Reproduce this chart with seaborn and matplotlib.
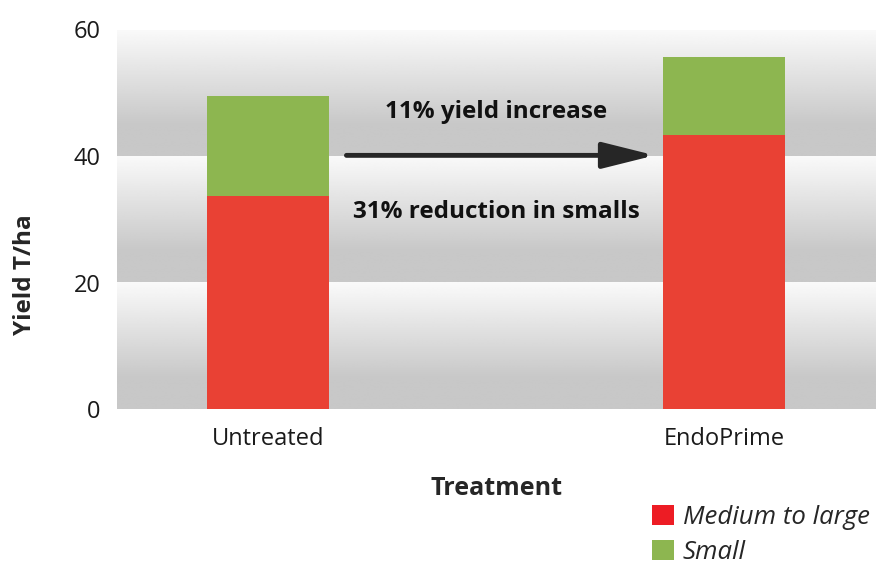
import numpy as np
import pandas as pd
import matplotlib.pyplot as plt
import seaborn as sns
from matplotlib.patches import Patch

# chart values
treatments = ['Untreated', 'EndoPrime']
medium_to_large = [33.7, 43.3]
small = [15.8, 12.4]
y_ticks = [0, 20, 40, 60]

df = pd.DataFrame({'Treatment': treatments,
                   'Medium to large': medium_to_large,
                   'Small': small})
df['Total'] = df['Medium to large'] + df['Small']

red = '#e94134'
green = '#8db650'

sns.set_style('white')
plt.rcParams['font.family'] = ['Open Sans', 'DejaVu Sans']

fig = plt.figure(figsize=(8.8, 5.64), dpi=100)
ax = fig.add_axes([117 / 880, 1 - 409 / 564, 759 / 880, 379.5 / 564])

xlim = (-0.331, 1.333)

# gradient background bands (white at top of each band fading to grey)
grad = np.clip(np.linspace(0, 1, 256) / 0.75, 0, 1)
shade = 0.98 - (0.98 - 0.784) * grad
band_img = np.repeat(shade[:, None], 2, axis=1)
for y0 in y_ticks[:-1]:
    ax.imshow(band_img, cmap='gray', vmin=0, vmax=1, aspect='auto',
              extent=(xlim[0], xlim[1], y0, y0 + 20), origin='upper', zorder=0)

# stacked bars: total (green) then medium-to-large (red) on top
sns.barplot(data=df, x='Treatment', y='Total', color=green, saturation=1,
            width=0.267, linewidth=0, ax=ax, zorder=2)
sns.barplot(data=df, x='Treatment', y='Medium to large', color=red, saturation=1,
            width=0.267, linewidth=0, ax=ax, zorder=3)

ax.set_xlim(*xlim)
ax.set_ylim(0, 60)
ax.set_yticks(y_ticks)
ax.tick_params(axis='y', length=0, pad=12, labelsize=17, labelcolor='#1a1a1a')
ax.tick_params(axis='x', length=0, pad=13, labelsize=17, labelcolor='#1a1a1a')
sns.despine(ax=ax, left=True, bottom=True)
ax.set_xlabel('Treatment', fontsize=18, fontweight='bold', labelpad=18)
ax.set_ylabel('')
fig.text(25 / 880, 1 - 275 / 564, 'Yield T/ha', rotation=90, fontsize=17.5,
         fontweight='bold', ha='center', va='center')

# arrow and annotations
ax.annotate('', xy=(0.848, 40.1), xytext=(0.172, 40.1),
            arrowprops=dict(arrowstyle='-|>,head_length=1.6,head_width=0.4',
                            lw=3.5, color='#262626', mutation_scale=20,
                            shrinkA=0, shrinkB=0), zorder=4)
ax.text(0.5, 46.9, '11% yield increase', ha='center', va='center',
        fontsize=17.5, fontweight='bold', color='#111111', zorder=4)
ax.text(0.5, 31.2, '31% reduction in smalls', ha='center', va='center',
        fontsize=17.5, fontweight='bold', color='#111111', zorder=4)

handles = [Patch(facecolor='#ed1c24', edgecolor='none', label='Medium to large'),
           Patch(facecolor=green, edgecolor='none', label='Small')]
leg = fig.legend(handles=handles, loc='upper left',
                 bbox_to_anchor=(652 / 880, 1 - 505 / 564), frameon=False,
                 handlelength=0.85, handleheight=0.85, handletextpad=0.35,
                 labelspacing=0.38, borderaxespad=0, borderpad=0,
                 prop=dict(family='Open Sans', style='italic', size=18.5))

fig.savefig('out.png', dpi=100, facecolor='white')
